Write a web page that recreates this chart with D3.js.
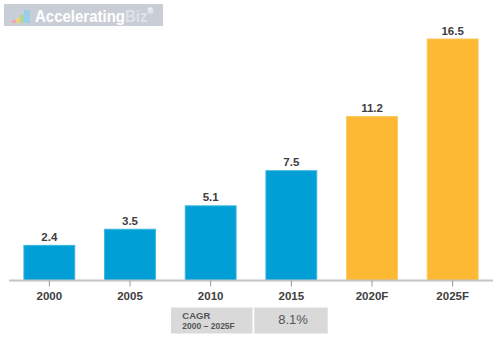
<!DOCTYPE html>
<html><head><meta charset="utf-8">
<script src="https://cdn.jsdelivr.net/npm/d3@7"></script>
<style>body{margin:0;background:#fff}svg{display:block}</style>
</head><body>
<svg id="c" width="500" height="357"></svg>
<script>
const categories = ["2000","2005","2010","2015","2020F","2025F"];
const values = [2.4, 3.5, 5.1, 7.5, 11.2, 16.5];
const forecast = [false, false, false, false, true, true];
const cagrLabel = ["CAGR", "2000 \u2013 2025F"];
const cagrValue = "8.1%";

const svg = d3.select("#c");
const font = "Liberation Sans, Arial, sans-serif";

const x = d3.scaleBand().domain(categories).range([9, 493]).paddingInner(0.37).paddingOuter(0.185);
const y = d3.scaleLinear().domain([0, 16.5]).range([280.5, 39]);

// logo
const logo = svg.append("g");
logo.append("rect").attr("x",4).attr("y",4).attr("width",159).attr("height",22).attr("fill","#c9ced6");
const ic = [[12,20,4,3,"#f4a3a3"],[16,18,4,5,"#f6d36b"],[20,15,4,8,"#a8d88a"],[24,10,6,13,"#8fd0ef"]];
ic.forEach(d=>logo.append("rect").attr("x",d[0]).attr("y",d[1]).attr("width",d[2]).attr("height",d[3]).attr("fill",d[4]).attr("opacity",0.8));
const lg = logo.append("g").attr("transform","translate(35,21.5) scale(1,1.1)");
const lt = lg.append("text").attr("x",0).attr("y",0).attr("font-family",font).attr("font-weight","bold").attr("font-size",15);
lt.append("tspan").attr("fill","#ffffff").text("Accelerating");
lt.append("tspan").attr("fill","#dfe2e7").text("Biz");
lt.append("tspan").attr("fill","#ffffff").attr("font-size",7.5).attr("dy",-7).text("\u00ae");

// bars
svg.append("g").selectAll("rect").data(values).join("rect")
  .attr("x",(d,i)=>x(categories[i]))
  .attr("y",d=>y(d))
  .attr("width",x.bandwidth())
  .attr("height",d=>y(0)-y(d))
  .attr("fill",(d,i)=>forecast[i]?"#fdb933":"#00a0d6")
  .attr("stroke",(d,i)=>forecast[i]?"#fcc65a":"#3bb3e0")
  .attr("stroke-width",1);

// value labels
svg.append("g").selectAll("text").data(values).join("text")
  .attr("x",(d,i)=>x(categories[i])+x.bandwidth()/2)
  .attr("y",d=>y(d)-4.5)
  .attr("text-anchor","middle")
  .attr("font-family",font).attr("font-weight","bold").attr("font-size",11.5)
  .attr("fill","#404040")
  .text(d=>d.toFixed(1));

// axis
const ax = svg.append("g").attr("transform",`translate(0,${y(0)})`)
  .call(d3.axisBottom(x).tickSize(6).tickPadding(5));
ax.select(".domain").attr("stroke","#c4c4c4").attr("stroke-width",2).attr("d","M9,0H493");
ax.selectAll(".tick line").attr("stroke","#999");
ax.selectAll(".tick text").attr("font-family",font).attr("font-weight","bold").attr("font-size",11.5).attr("fill","#404040");

// CAGR box
svg.append("rect").attr("x",171).attr("y",307.5).attr("width",81.5).attr("height",26).attr("fill","#d9d9d9");
svg.append("rect").attr("x",254.3).attr("y",307.5).attr("width",73.4).attr("height",26).attr("fill","#d9d9d9");
svg.append("text").attr("x",182.3).attr("y",318.8).attr("font-family",font).attr("font-weight","bold").attr("font-size",9.5).attr("fill","#555").text(cagrLabel[0]);
svg.append("text").attr("x",182.3).attr("y",329).attr("font-family",font).attr("font-weight","bold").attr("font-size",9.5).attr("fill","#555")
  .attr("textLength",52.5).attr("lengthAdjust","spacingAndGlyphs").text(cagrLabel[1]);
svg.append("text").attr("x",293).attr("y",323.5).attr("text-anchor","middle").attr("font-family",font).attr("font-size",13).attr("fill","#555").text(cagrValue);
</script>
</body></html>
